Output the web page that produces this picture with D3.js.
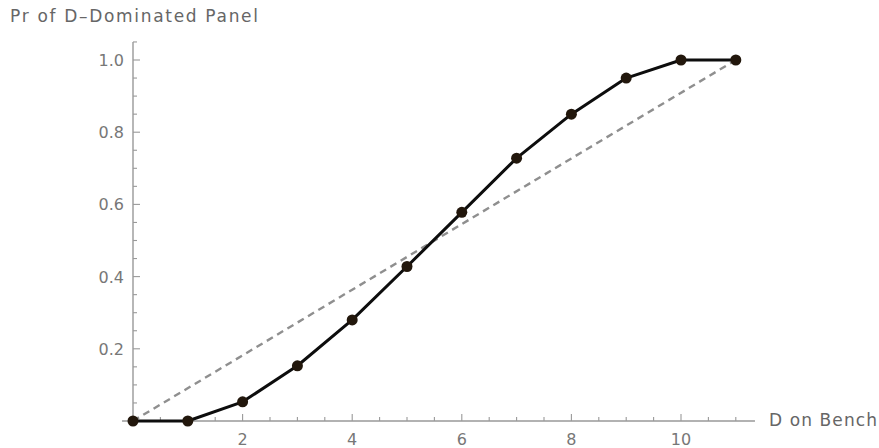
<!DOCTYPE html>
<html>
<head>
<meta charset="utf-8">
<script src="https://cdn.jsdelivr.net/npm/d3@7"></script>
<style>
  body { margin: 0; background: #fff; }
  text { font-family: "DejaVu Sans", Verdana, sans-serif; }
</style>
</head>
<body>
<div id="chart-area"></div>
<script>
var outerWidth = 879;
var outerHeight = 448;

// data
var benchD = [0, 1, 2, 3, 4, 5, 6, 7, 8, 9, 10, 11];
var prPanel = [0, 0, 0.053, 0.153, 0.28, 0.428, 0.578, 0.728, 0.85, 0.95, 1.0, 1.0];
var xTickValues = [2, 4, 6, 8, 10];
var yTickValues = [0.2, 0.4, 0.6, 0.8, 1.0];
var diagonal = [[0, 0], [11, 1]];

var svg = d3.select('#chart-area').append('svg')
            .attr('width', outerWidth)
            .attr('height', outerHeight);

var xScale = d3.scaleLinear().domain([0, 10]).range([133, 681]);
var yScale = d3.scaleLinear().domain([0, 1]).range([421, 60]);

var axisColor = '#999';
var labelColor = '#777';

// x axis line (a bit past the data on both sides)
svg.append('line')
   .attr('x1', xScale(-0.2)).attr('x2', xScale(11.35))
   .attr('y1', yScale(0)).attr('y2', yScale(0))
   .attr('stroke', axisColor).attr('stroke-width', 1.4);

// y axis line
svg.append('line')
   .attr('x1', xScale(0)).attr('x2', xScale(0))
   .attr('y1', yScale(0)).attr('y2', yScale(1.05))
   .attr('stroke', axisColor).attr('stroke-width', 1.4);

// x ticks: major every 2, minor every 0.5, pointing up
var xMinor = d3.range(0.5, 11.3, 0.5).filter(function(v){ return v % 2 !== 0; });
svg.selectAll('.xminor').data(xMinor).enter().append('line')
   .attr('x1', function(d){ return xScale(d); }).attr('x2', function(d){ return xScale(d); })
   .attr('y1', yScale(0)).attr('y2', yScale(0) - 4)
   .attr('stroke', axisColor).attr('stroke-width', 1.1);
svg.selectAll('.xmajor').data(xTickValues).enter().append('line')
   .attr('x1', function(d){ return xScale(d); }).attr('x2', function(d){ return xScale(d); })
   .attr('y1', yScale(0)).attr('y2', yScale(0) - 7)
   .attr('stroke', axisColor).attr('stroke-width', 1.1);
svg.selectAll('.xlabel').data(xTickValues).enter().append('text')
   .attr('x', function(d){ return xScale(d); })
   .attr('y', yScale(0) + 24)
   .attr('text-anchor', 'middle')
   .attr('font-size', '16px')
   .attr('fill', labelColor)
   .text(function(d){ return d; });

// y ticks: major every 0.2, minor every 0.05, pointing right
var yMinor = d3.range(1, 22).map(function(i){ return i * 0.05; })
               .filter(function(v){ return Math.round(v * 100) % 20 !== 0; });
svg.selectAll('.yminor').data(yMinor).enter().append('line')
   .attr('x1', xScale(0)).attr('x2', xScale(0) + 4)
   .attr('y1', function(d){ return yScale(d); }).attr('y2', function(d){ return yScale(d); })
   .attr('stroke', axisColor).attr('stroke-width', 1.1);
svg.selectAll('.ymajor').data(yTickValues).enter().append('line')
   .attr('x1', xScale(0)).attr('x2', xScale(0) + 7)
   .attr('y1', function(d){ return yScale(d); }).attr('y2', function(d){ return yScale(d); })
   .attr('stroke', axisColor).attr('stroke-width', 1.1);
svg.selectAll('.ylabel').data(yTickValues).enter().append('text')
   .attr('x', xScale(0) - 9)
   .attr('y', function(d){ return yScale(d) + 6; })
   .attr('text-anchor', 'end')
   .attr('font-size', '16px')
   .attr('fill', labelColor)
   .text(function(d){ return d3.format('.1f')(d); });

// axis labels
svg.append('text')
   .attr('x', 10).attr('y', 22)
   .attr('font-size', '17px')
   .attr('fill', '#666')
   .attr('textLength', 248)
   .attr('lengthAdjust', 'spacing')
   .text('Pr of D\u2013Dominated Panel');
svg.append('text')
   .attr('x', 769).attr('y', yScale(0) + 5)
   .attr('font-size', '17px')
   .attr('fill', '#666')
   .attr('textLength', 108)
   .attr('lengthAdjust', 'spacing')
   .text('D on Bench');

// dashed diagonal
var line = d3.line()
             .x(function(d){ return xScale(d[0]); })
             .y(function(d){ return yScale(d[1]); });
svg.append('path')
   .attr('d', line(diagonal))
   .attr('fill', 'none')
   .attr('stroke', '#8f8f8f')
   .attr('stroke-width', 2.4)
   .attr('stroke-dasharray', '7,5');

// data line
var pts = benchD.map(function(d, i){ return [d, prPanel[i]]; });
svg.append('path')
   .attr('d', line(pts))
   .attr('fill', 'none')
   .attr('stroke', '#0d0d0d')
   .attr('stroke-width', 3)
   .attr('stroke-linejoin', 'round');

svg.selectAll('.pt').data(pts).enter().append('circle')
   .attr('cx', function(d){ return xScale(d[0]); })
   .attr('cy', function(d){ return yScale(d[1]); })
   .attr('r', 5.5)
   .attr('fill', '#22170c');
</script>
</body>
</html>
